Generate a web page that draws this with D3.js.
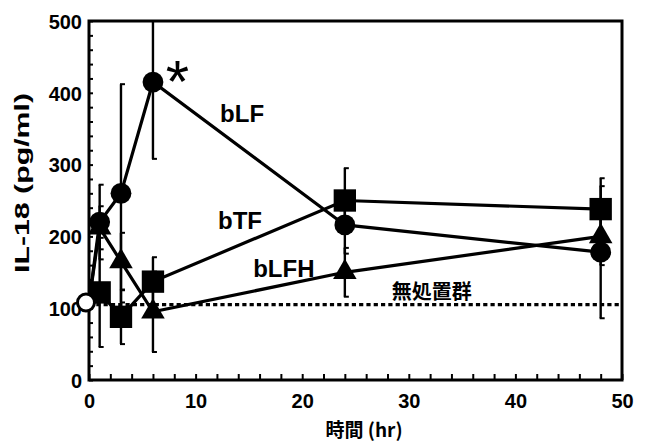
<!DOCTYPE html>
<html><head><meta charset="utf-8">
<script src="https://cdn.jsdelivr.net/npm/d3@7"></script>
<style>body{margin:0;background:#fff}svg{display:block}</style>
</head><body>
<svg id="c" width="651" height="441"></svg>
<script>
// ---- data ----
const hours = [1, 3, 6, 24, 48];
const baseT = 0, baseV = 108;           // open circle (time 0)
const bLF = [220, 260, 415, 216, 178];
const bLFsd = [52, 152, 107, 40, 92];
const bTF = [122, 88, 137, 250, 238];
const bTFsd = [76, 38, 34, 45, 43];
const bLFH = [212, 165, 95, 150, 200];
const bLFHsd = [30, 40, 56, 34, 40];
const untreated = 105;
const xTicks = [0, 10, 20, 30, 40, 50];
const yTicks = [0, 100, 200, 300, 400, 500];

// ---- layout ----
const svg = d3.select("#c");
const L = 89, R = 622, T = 21, B = 380;
const x = d3.scaleLinear().domain([0, 50]).range([L, R]);
const y = d3.scaleLinear().domain([0, 500]).range([B, T]);
const font = "'Liberation Sans', Arial, sans-serif";
const cjk = "'Noto Sans CJK JP', sans-serif";

svg.append("defs").append("clipPath").attr("id", "pc")
  .append("rect").attr("x", L).attr("y", T).attr("width", R - L).attr("height", B - T);

// axes with inner ticks
const xMinor = d3.range(0, 51, 2);
const yMinor = d3.range(0, 501, 20);
svg.append("g").attr("transform", `translate(0,${B})`)
  .call(d3.axisTop(x).tickValues(xMinor).tickSize(6).tickFormat(""))
  .call(g => g.select(".domain").remove())
  .selectAll("line").attr("stroke", "#000").attr("stroke-width", 2);
svg.append("g").attr("transform", `translate(${L},0)`)
  .call(d3.axisRight(y).tickValues(yMinor).tickSize(4).tickFormat(""))
  .call(g => g.select(".domain").remove())
  .selectAll("line").attr("stroke", "#000").attr("stroke-width", 2);

// tick labels
svg.append("g").attr("transform", `translate(0,${B})`)
  .call(d3.axisBottom(x).tickValues(xTicks).tickSize(0).tickPadding(14))
  .call(g => g.select(".domain").remove())
  .selectAll("text").attr("font-family", font).attr("font-size", 20)
  .attr("font-weight", "bold").attr("fill", "#000");
svg.append("g").attr("transform", `translate(${L},0)`)
  .call(d3.axisLeft(y).tickValues(yTicks).tickSize(0).tickPadding(7))
  .call(g => g.select(".domain").remove())
  .selectAll("text").attr("font-family", font).attr("font-size", 20)
  .attr("font-weight", "bold").attr("fill", "#000").attr("dy", "0.36em");

// frame
svg.append("rect").attr("x", L).attr("y", T).attr("width", R - L).attr("height", B - T)
  .attr("fill", "none").attr("stroke", "#000").attr("stroke-width", 3);

// axis titles
svg.append("text").attr("x", 364).attr("y", 437).attr("text-anchor", "middle")
  .attr("font-family", cjk).attr("font-size", 19).attr("font-weight", "bold")
  .text("時間 (hr)");
svg.append("text").attr("transform", "translate(29,183) rotate(-90)")
  .attr("text-anchor", "middle").attr("font-family", font).attr("font-size", 20)
  .attr("font-weight", "bold").attr("textLength", 180).attr("lengthAdjust", "spacingAndGlyphs")
  .text("IL-18 (pg/ml)");

const plot = svg.append("g").attr("clip-path", "url(#pc)");

// untreated dotted line
plot.append("line").attr("x1", x(0)).attr("x2", x(50))
  .attr("y1", y(untreated)).attr("y2", y(untreated))
  .attr("stroke", "#000").attr("stroke-width", 3.2).attr("stroke-dasharray", "4.2,3.1");

const series = [
  { v: bLFH, sd: bLFHsd, sym: d3.symbolTriangle, size: 240 },
  { v: bTF, sd: bTFsd, sym: d3.symbolSquare, size: 500 },
  { v: bLF, sd: bLFsd, sym: d3.symbolCircle, size: 340 }
];
const line = d3.line().x(d => x(d[0])).y(d => y(d[1]));

series.forEach(s => {
  const pts = [[baseT, baseV]].concat(hours.map((h, i) => [h, s.v[i]]));
  plot.append("path").attr("d", line(pts)).attr("fill", "none")
    .attr("stroke", "#000").attr("stroke-width", 3.2);
});
series.forEach(s => {
  hours.forEach((h, i) => {
    const lo = s.v[i] - s.sd[i], hi = s.v[i] + s.sd[i];
    plot.append("line").attr("x1", x(h)).attr("x2", x(h)).attr("y1", y(lo)).attr("y2", y(hi))
      .attr("stroke", "#000").attr("stroke-width", 2.4);
    [lo, hi].forEach(e => plot.append("line").attr("x1", x(h) - 1).attr("x2", x(h) + 4)
      .attr("y1", y(e)).attr("y2", y(e)).attr("stroke", "#000").attr("stroke-width", 2));
  });
});
series.forEach(s => {
  hours.forEach((h, i) => {
    svg.append("path").attr("d", d3.symbol(s.sym, s.size)())
      .attr("transform", `translate(${x(h)},${y(s.v[i])})`).attr("fill", "#000");
  });
});
// open circle at time 0
svg.append("circle").attr("cx", x(baseT) - 3).attr("cy", y(baseV)).attr("r", 8.5)
  .attr("fill", "#fff").attr("stroke", "#000").attr("stroke-width", 3);

// series labels
const lab = (t, px, py) => svg.append("text").attr("x", px).attr("y", py)
  .attr("font-family", font).attr("font-size", 24).attr("font-weight", "bold").text(t);
lab("bLF", x(12.3), y(360));
lab("bTF", x(12.1), y(210));
lab("bLFH", x(15.4), y(144));
svg.append("text").attr("x", x(28.4)).attr("y", y(113)).attr("font-family", cjk)
  .attr("font-size", 20).attr("font-weight", "bold").text("無処置群");
// significance mark
svg.append("text").attr("x", x(7.2)).attr("y", y(387)).attr("font-family", font)
  .attr("font-size", 60).text("*");
</script>
</body></html>
